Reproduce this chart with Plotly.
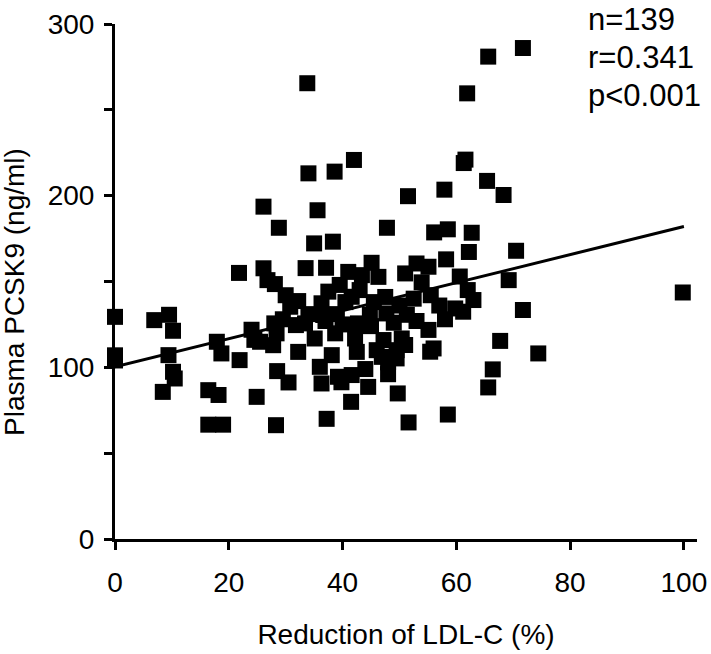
import plotly.graph_objects as go

# Reduction of LDL-C (%)
ldl_reduction = [
    71.7, 65.6, 33.8, 61.9, 61.3, 61.6, 42.0, 34.0, 38.6, 65.4,
    68.3, 57.9, 51.5, 26.1, 35.6, 28.8, 47.8, 56.1, 58.5, 62.7,
    35.0, 38.3, 62.2, 70.5, 21.8, 26.1, 26.8, 28.1, 33.5, 37.1,
    45.1, 41.0, 46.3, 43.4, 51.0, 53.0, 55.1, 58.2, 60.6, 53.9,
    69.2, 39.5, 37.5, 41.6, 36.3, 36.6, 32.2, 30.8, 59.8, 63.0,
    61.2, 71.7, 99.8, 0.0, 0.0, 0.0, 6.9, 9.5, 10.2, 9.4,
    10.2, 10.5, 8.4, 16.4, 18.2, 16.4, 19.0, 17.9, 18.7, 21.9,
    24.0, 25.5, 28.0, 28.4, 27.8, 31.8, 33.4, 32.2, 28.5, 30.5,
    24.9, 28.3, 42.7, 44.8, 47.7, 51.3, 35.1, 38.7, 42.2, 42.5,
    38.1, 47.2, 50.4, 46.9, 49.5, 48.0, 51.0, 55.1, 55.4, 56.0,
    36.0, 36.3, 39.2, 41.6, 39.8, 44.5, 41.5, 49.7, 65.6, 66.4,
    67.7, 74.4, 37.2, 51.6, 58.5, 39.0, 45.5, 47.5, 50.0, 52.5,
    55.5, 57.0, 49.0, 53.0, 45.0, 58.0, 40.0, 34.0, 29.5, 30.0,
    24.5, 43.0, 62.0, 46.0, 49.5, 44.0, 48.0, 37.0, 40.5,
]

# Plasma PCSK9 (ng/ml)
pcsk9 = [
    286.0, 281.0, 265.5, 259.6, 219.0, 221.0, 220.8, 213.0, 214.0, 208.6,
    200.4, 203.5, 199.7, 193.6, 191.5, 181.3, 181.3, 178.6, 180.4, 178.4,
    172.2, 173.2, 167.2, 167.9, 155.0, 157.7, 150.8, 148.5, 157.8, 158.0,
    160.9, 155.6, 152.7, 153.7, 154.7, 160.5, 158.6, 162.9, 152.9, 149.5,
    150.8, 148.0, 144.1, 141.1, 137.3, 130.5, 138.6, 135.3, 134.3, 139.2,
    132.4, 133.4, 143.6, 129.4, 107.0, 104.0, 127.5, 130.6, 121.3, 107.1,
    97.4, 93.5, 85.7, 86.7, 83.9, 66.6, 66.6, 114.9, 108.1, 104.2,
    121.9, 114.9, 125.6, 119.8, 112.9, 124.6, 125.6, 109.0, 97.8, 91.2,
    82.8, 66.3, 125.6, 130.6, 131.4, 130.6, 116.8, 119.8, 116.8, 109.0,
    107.1, 115.9, 116.8, 106.1, 105.2, 102.9, 113.0, 121.8, 109.1, 111.0,
    100.3, 90.6, 94.5, 95.5, 91.3, 88.6, 79.9, 84.8, 88.3, 98.8,
    115.4, 108.1, 70.0, 67.9, 72.5, 131.0, 138.0, 141.0, 136.0, 140.0,
    142.0, 136.0, 126.0, 127.0, 124.0, 128.0, 125.0, 131.0, 128.0, 142.0,
    116.0, 145.0, 145.0, 110.0, 110.0, 99.0, 96.0, 127.0, 138.0,
]

# Regression line
fit_x = [0, 100]
fit_y = [100.3, 182.0]

y_tick_vals = [0, 50, 100, 150, 200, 250, 300]
y_tick_text = ["0", "", "100", "", "200", "", "300"]
x_tick_vals = [0, 20, 40, 60, 80, 100]
x_tick_text = ["0", "20", "40", "60", "80", "100"]

stats_lines = ["n=139", "r=0.341", "p<0.001"]
x_title = "Reduction of LDL-C (%)"
y_title = "Plasma PCSK9 (ng/ml)"

FONT = "Liberation Sans, Arial, sans-serif"

fig = go.Figure()
fig.add_trace(go.Scatter(
    x=ldl_reduction, y=pcsk9, mode="markers",
    marker=dict(symbol="square", size=16, color="black", line=dict(width=0)),
    cliponaxis=False, showlegend=False,
))
fig.add_trace(go.Scatter(
    x=fit_x, y=fit_y, mode="lines",
    line=dict(color="black", width=3),
    cliponaxis=False, showlegend=False,
))

axis_common = dict(
    showgrid=False, zeroline=False, showline=True, linecolor="black",
    linewidth=3, ticks="outside", ticklen=8, tickwidth=3, tickcolor="black",
    tickfont=dict(family=FONT, size=28, color="black"),
    automargin=False,
)

fig.update_xaxes(
    range=[0, 102.3], tickmode="array", tickvals=x_tick_vals, ticktext=x_tick_text,
    title=dict(text=x_title, font=dict(family=FONT, size=28, color="black"),
               standoff=28),
    ticklabelstandoff=8,
    **axis_common,
)
fig.update_yaxes(
    range=[0, 300], tickmode="array", tickvals=y_tick_vals, ticktext=y_tick_text,
    ticklabelstandoff=4,
    **axis_common,
)

# y-axis title (placed as rotated annotation to match reference position)
fig.add_annotation(
    text=y_title, xref="paper", yref="paper", x=-0.1736, y=0.4796,
    xanchor="center", yanchor="middle", textangle=-90, showarrow=False,
    font=dict(family=FONT, size=28, color="black"),
)

stat_y = [1.0466, 0.9728, 0.899]
for txt, yy in zip(stats_lines, stat_y):
    fig.add_annotation(
        text=txt, xref="paper", yref="paper", x=0.809, y=yy,
        xanchor="left", yanchor="top", showarrow=False,
        font=dict(family=FONT, size=31, color="black"),
    )

fig.update_layout(
    width=711, height=654,
    margin=dict(l=115, r=14, t=24, b=115),
    plot_bgcolor="white", paper_bgcolor="white",
    font=dict(family=FONT, color="black"),
)

fig.write_html(
    "out.html",
    config={"displayModeBar": False},
    post_script="document.body.style.margin='0';document.body.style.overflow='hidden';",
)
